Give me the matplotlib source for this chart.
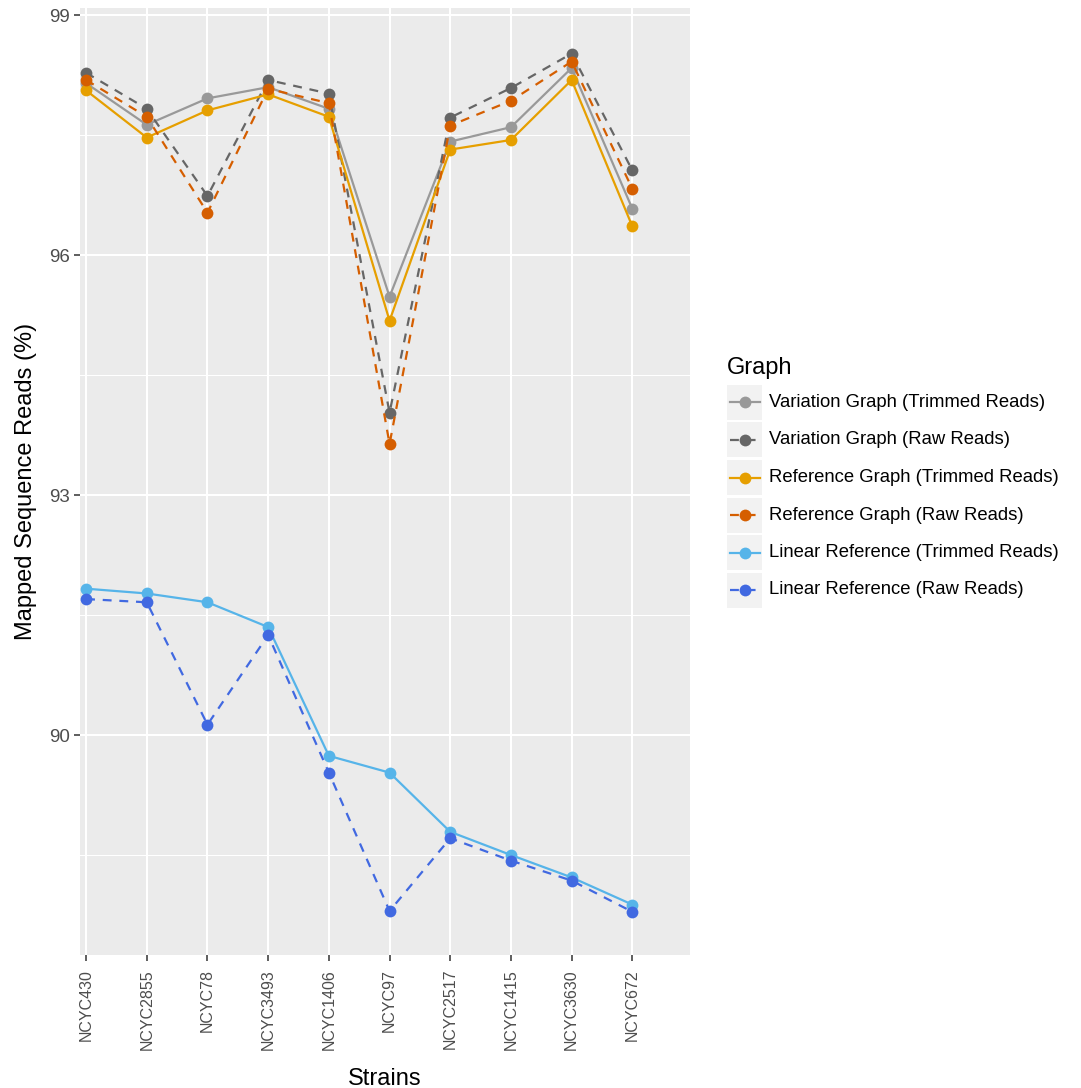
import numpy as np
import matplotlib
matplotlib.use("Agg")
import matplotlib.pyplot as plt
from matplotlib.patches import Rectangle
from matplotlib.lines import Line2D

plt.rcParams['font.family'] = ['Liberation Sans', 'DejaVu Sans']

# strains on the x axis
strains = ['NCYC430', 'NCYC2855', 'NCYC78', 'NCYC3493', 'NCYC1406',
           'NCYC97', 'NCYC2517', 'NCYC1415', 'NCYC3630', 'NCYC672']

# mapped reads (%) per series
vg_trimmed = [98.15, 97.63, 97.96, 98.10, 97.83, 95.48, 97.42, 97.60, 98.34, 96.58]
vg_raw = [98.28, 97.83, 96.74, 98.19, 98.02, 94.03, 97.72, 98.09, 98.52, 97.06]
rg_trimmed = [98.06, 97.47, 97.81, 98.01, 97.73, 95.18, 97.32, 97.44, 98.19, 96.36]
rg_raw = [98.19, 97.73, 96.53, 98.08, 97.90, 93.64, 97.62, 97.93, 98.42, 96.83]
lr_trimmed = [91.83, 91.77, 91.66, 91.35, 89.74, 89.53, 88.79, 88.50, 88.22, 87.88]
lr_raw = [91.70, 91.66, 90.13, 91.25, 89.53, 87.80, 88.71, 88.43, 88.18, 87.79]

labels = ['Variation Graph (Trimmed Reads)', 'Variation Graph (Raw Reads)',
          'Reference Graph (Trimmed Reads)', 'Reference Graph (Raw Reads)',
          'Linear Reference (Trimmed Reads)', 'Linear Reference (Raw Reads)']
series = [vg_trimmed, vg_raw, rg_trimmed, rg_raw, lr_trimmed, lr_raw]
colors = ['#999999', '#666666', '#E69F00', '#D55E00', '#56B4E9', '#4169E1']
styles = ['solid', 'dashed', 'solid', 'dashed', 'solid', 'dashed']

W, H = 1081, 1088
fig = plt.figure(figsize=(W / 100, H / 100), dpi=100)
ax = fig.add_axes([80 / W, 1 - 955 / H, 610 / W, 947 / H])
ax.set_facecolor('#EBEBEB')

x = np.arange(len(strains))
for vals, c, ls in zip(series, colors, styles):
    ln, = ax.plot(x, vals, color=c, lw=1.6, marker='o', markersize=8.5,
                  markeredgewidth=0, zorder=3)
    if ls == 'dashed':
        ln.set_dashes((4, 3.5))

ax.set_xlim(-0.1, 9.95)
ax.set_ylim(87.25, 99.09)
ax.set_xticks(x)
ax.set_xticklabels(strains, rotation=90)
ax.set_yticks([90, 93, 96, 99])
ax.set_yticks([88.5, 91.5, 94.5, 97.5], minor=True)
ax.grid(which='major', color='white', lw=1.5, zorder=0)
ax.grid(which='minor', axis='y', color='white', lw=0.75, zorder=0)
ax.set_axisbelow(True)
for s in ax.spines.values():
    s.set_visible(False)
ax.tick_params(axis='both', which='major', length=4, width=1.1, color='#333333',
               labelcolor='#4D4D4D', pad=3)
ax.tick_params(axis='x', labelsize=11.5, pad=6)
ax.tick_params(axis='y', labelsize=13.5)
ax.tick_params(axis='y', which='minor', length=0)
ax.set_xlabel('Strains', fontsize=17, labelpad=13)
ax.set_ylabel('Mapped Sequence Reads (%)', fontsize=17, labelpad=9)

# legend drawn by hand (ggplot style grey key boxes)
def fx(px):
    return px / W

def fy(py):
    return 1 - py / H

fig.text(fx(727), fy(368), 'Graph', fontsize=17, va='center', ha='left')
for i, (lab, c, ls) in enumerate(zip(labels, colors, styles)):
    top = 385 + 37.5 * i
    fig.patches.append(Rectangle((fx(727), fy(top + 35)), 35 / W, 35 / H,
                                 transform=fig.transFigure, facecolor='#F2F2F2',
                                 edgecolor='none'))
    yc = fy(top + 17.5)
    ln = Line2D([fx(730), fx(760)], [yc, yc], transform=fig.transFigure,
                color=c, lw=1.6)
    if ls == 'dashed':
        ln.set_dashes((4, 3.5))
    fig.lines.append(ln)
    fig.lines.append(Line2D([fx(745)], [yc], transform=fig.transFigure,
                            color=c, marker='o', markersize=8.5, markeredgewidth=0))
    fig.text(fx(769), yc, lab, fontsize=13.3, va='center', ha='left')

fig.savefig('out.png', dpi=100)
